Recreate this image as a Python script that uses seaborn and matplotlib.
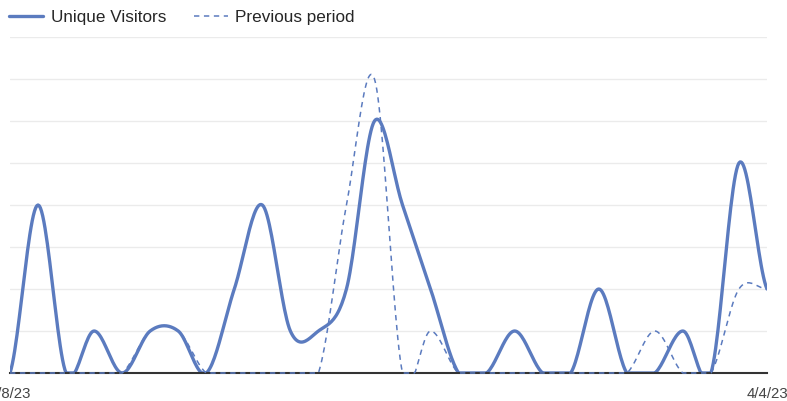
import numpy as np
import pandas as pd
import matplotlib.pyplot as plt
import seaborn as sns

# daily values, 3/8/23 .. 4/4/23
dates = pd.date_range("2023-03-08", "2023-04-04", freq="D")
unique_visitors = [0, 4, 0, 1, 0, 1, 1, 0, 2, 4, 1, 1, 2, 6, 4, 2, 0, 0, 1, 0, 0, 2, 0, 0, 1, 0, 5, 2]
previous_period = [0, 0, 0, 0, 0, 1, 1, 0, 0, 0, 0, 0, 4, 7, 0, 1, 0, 0, 0, 0, 0, 0, 0, 1, 0, 0, 2, 2]
series_names = ["Unique Visitors", "Previous period"]
tick_labels = ["3/8/23", "4/4/23"]

BLUE = "#5b7bbf"


def smooth(y, n=24, k=1 / 6):
    # Catmull-Rom style curve through the daily points (display only)
    y = np.asarray(y, float)
    p = np.r_[y[0], y, y[-1]]
    xs, ys = [], []
    t = np.linspace(0, 1, n, endpoint=False)
    for i in range(len(y) - 1):
        p0, p1, p2, p3 = p[i], p[i + 1], p[i + 2], p[i + 3]
        c1 = p1 + (p2 - p0) * k
        c2 = p2 - (p3 - p1) * k
        b = (1 - t) ** 3 * p1 + 3 * (1 - t) ** 2 * t * c1 + 3 * (1 - t) * t ** 2 * c2 + t ** 3 * p2
        xs.append(i + t)
        ys.append(b)
    xs.append([len(y) - 1])
    ys.append([y[-1]])
    # the chart area stops at the baseline
    return np.concatenate(xs), np.maximum(np.concatenate(ys), 0)


frames = []
for name, vals in zip(series_names, [unique_visitors, previous_period]):
    sx, sy = smooth(vals)
    frames.append(pd.DataFrame({"day": sx, "visitors": sy, "series": name}))
df = pd.concat(frames, ignore_index=True)

sns.set_theme(style="white")
plt.rcParams["font.family"] = ["Liberation Sans", "DejaVu Sans"]

fig = plt.figure(figsize=(7.87, 4.01), dpi=100)
ax = fig.add_axes([10 / 787, 1 - 373 / 401, 757 / 787, 336 / 401])

sns.lineplot(data=df, x="day", y="visitors", hue="series", style="series",
             palette={series_names[0]: BLUE, series_names[1]: BLUE},
             dashes={series_names[0]: "", series_names[1]: (3.5, 3)},
             sort=False, ax=ax, legend=False)
lines = ax.get_lines()
# solid line sits under the baseline, dashed one on top of it
lines[0].set_linewidth(2.4)
lines[0].set_zorder(2.5)
lines[1].set_linewidth(1.1)
lines[1].set_zorder(4)
lines[1].set_clip_on(False)

ax.set_xlim(0, len(dates) - 1)
ax.set_ylim(0, 8)
ax.set_yticks(range(0, 9))
ax.set_yticklabels([])
ax.tick_params(axis="y", length=0)
ax.grid(axis="y", color="#ebebeb", linewidth=1)
ax.set_axisbelow(True)
ax.set_xticks([0, len(dates) - 1])
ax.set_xticklabels(tick_labels, fontsize=10.8, color="#444444")
ax.tick_params(axis="x", length=0, pad=10)
ax.set_xlabel("")
ax.set_ylabel("")
for s in ["top", "right", "left"]:
    ax.spines[s].set_visible(False)
ax.spines["bottom"].set_color("#333333")
ax.spines["bottom"].set_linewidth(1.5)
ax.spines["bottom"].set_zorder(3)

handles = [plt.Line2D([], [], color=BLUE, lw=2.4),
           plt.Line2D([], [], color=BLUE, lw=1.1, ls=(0, (3.5, 3)))]
fig.legend(handles, series_names, loc="upper left", bbox_to_anchor=(9 / 787, 1 - 10 / 401),
           ncol=2, frameon=False, fontsize=12.3, handlelength=2.0, handletextpad=0.45,
           columnspacing=1.6, borderpad=0, borderaxespad=0)

fig.savefig("out.png", dpi=100)
